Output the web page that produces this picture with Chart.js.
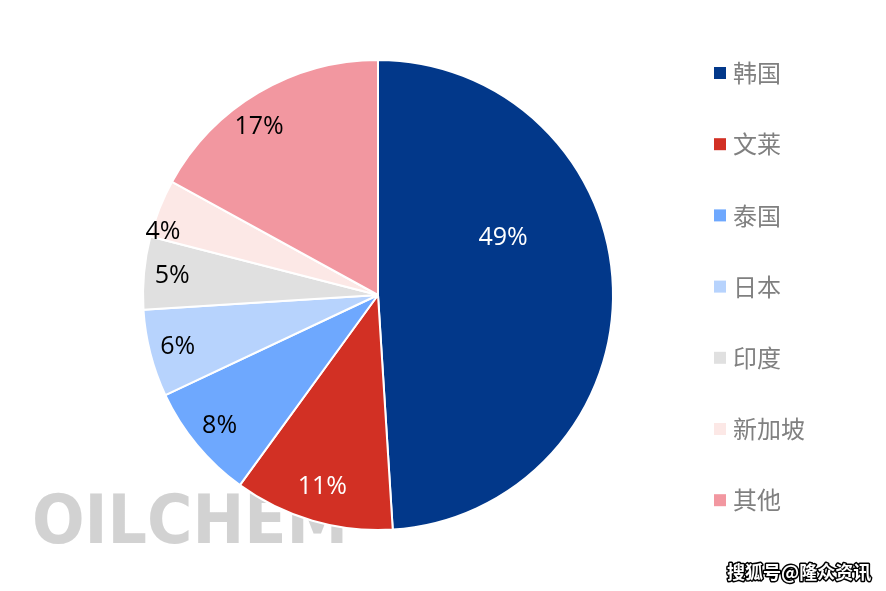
<!DOCTYPE html>
<html>
<head>
<meta charset="utf-8">
<script src="https://cdn.jsdelivr.net/npm/chart.js@4"></script>
<style>
  html, body { margin: 0; padding: 0; background: #fff; }
  #wrap { width: 886px; height: 591px; position: relative; }
</style>
</head>
<body>
<div id="wrap"><canvas id="myChart" width="886" height="591"></canvas></div>
<script>
const countries = ['韩国', '文莱', '泰国', '日本', '印度', '新加坡', '其他'];
const shares = [49, 11, 8, 6, 5, 4, 17];
const colors = ['#02388A', '#D23024', '#6EA8FE', '#B7D3FD', '#E0E0E0', '#FCE8E6', '#F297A0'];
const labelColors = ['#fff', '#fff', '#000', '#000', '#000', '#000', '#000'];

const FONT = '"Noto Sans CJK SC", "Noto Sans", sans-serif';

// percent labels inside the slices
const sliceLabels = {
  id: 'sliceLabels',
  afterDatasetsDraw(chart, args, opts) {
    const c = chart.ctx;
    const meta = chart.getDatasetMeta(0);
    c.save();
    c.font = '25px "Open Sans", "Noto Sans", sans-serif';
    c.textAlign = 'center';
    c.textBaseline = 'middle';
    meta.data.forEach((arc, i) => {
      const p = arc.getProps(['x', 'y', 'startAngle', 'endAngle', 'outerRadius'], true);
      const a = (p.startAngle + p.endAngle) / 2 + (opts.shift[i] || 0) * Math.PI / 180;
      const r = p.outerRadius * opts.radius[i];
      c.fillStyle = labelColors[i];
      c.fillText(shares[i] + '%', p.x + Math.cos(a) * r, p.y + Math.sin(a) * r);
    });
    c.restore();
  }
};

// legend on the right
const sideLegend = {
  id: 'sideLegend',
  afterDraw(chart) {
    const c = chart.ctx;
    c.save();
    c.font = '24px ' + FONT;
    c.textBaseline = 'middle';
    countries.forEach((name, i) => {
      const y = 73 + i * 71.2;
      c.fillStyle = colors[i];
      c.fillRect(714, y - 6, 12, 12);
      c.fillStyle = '#808080';
      c.fillText(name, 733, y);
    });
    c.restore();
  }
};

// watermarks
const marks = {
  id: 'marks',
  beforeDatasetsDraw(chart) {
    const c = chart.ctx;
    c.save();
    c.font = 'bold 68px "DejaVu Sans", sans-serif';
    c.textBaseline = 'alphabetic';
    const w = c.measureText('OILCHEM').width;
    const g = c.createLinearGradient(0, 492, 0, 545);
    g.addColorStop(0, '#d2d2d2');
    g.addColorStop(1, '#f7f7f7');
    c.fillStyle = g;
    c.translate(32, 543);
    c.scale(316 / w, 1);
    c.fillText('OILCHEM', 0, 0);
    c.restore();
  },
  afterDraw(chart) {
    const c = chart.ctx;
    c.save();
    c.font = 'bold 18px ' + FONT;
    c.textBaseline = 'middle';
    c.lineWidth = 3;
    c.strokeStyle = '#000';
    c.lineJoin = 'round';
    c.strokeText('搜狐号@隆众资讯', 727, 572);
    c.fillStyle = '#fff';
    c.fillText('搜狐号@隆众资讯', 727, 572);
    c.restore();
  }
};

new Chart(document.getElementById('myChart'), {
  type: 'pie',
  data: {
    labels: countries,
    datasets: [{
      data: shares,
      backgroundColor: colors,
      borderColor: '#fff',
      borderWidth: 2,
      hoverOffset: 0
    }]
  },
  options: {
    responsive: false,
    animation: false,
    events: [],
    layout: { padding: { left: 142, right: 272, top: 59, bottom: 60 } },
    plugins: {
      legend: { display: false },
      tooltip: { enabled: false },
      sliceLabels: {
        radius: [0.585, 0.85, 0.875, 0.88, 0.88, 0.953, 0.876],
        shift: [-22.7, 0, 0, 0, 0, -5.3, -4.7]
      }
    }
  },
  plugins: [marks, sliceLabels, sideLegend]
});
</script>
</body>
</html>
